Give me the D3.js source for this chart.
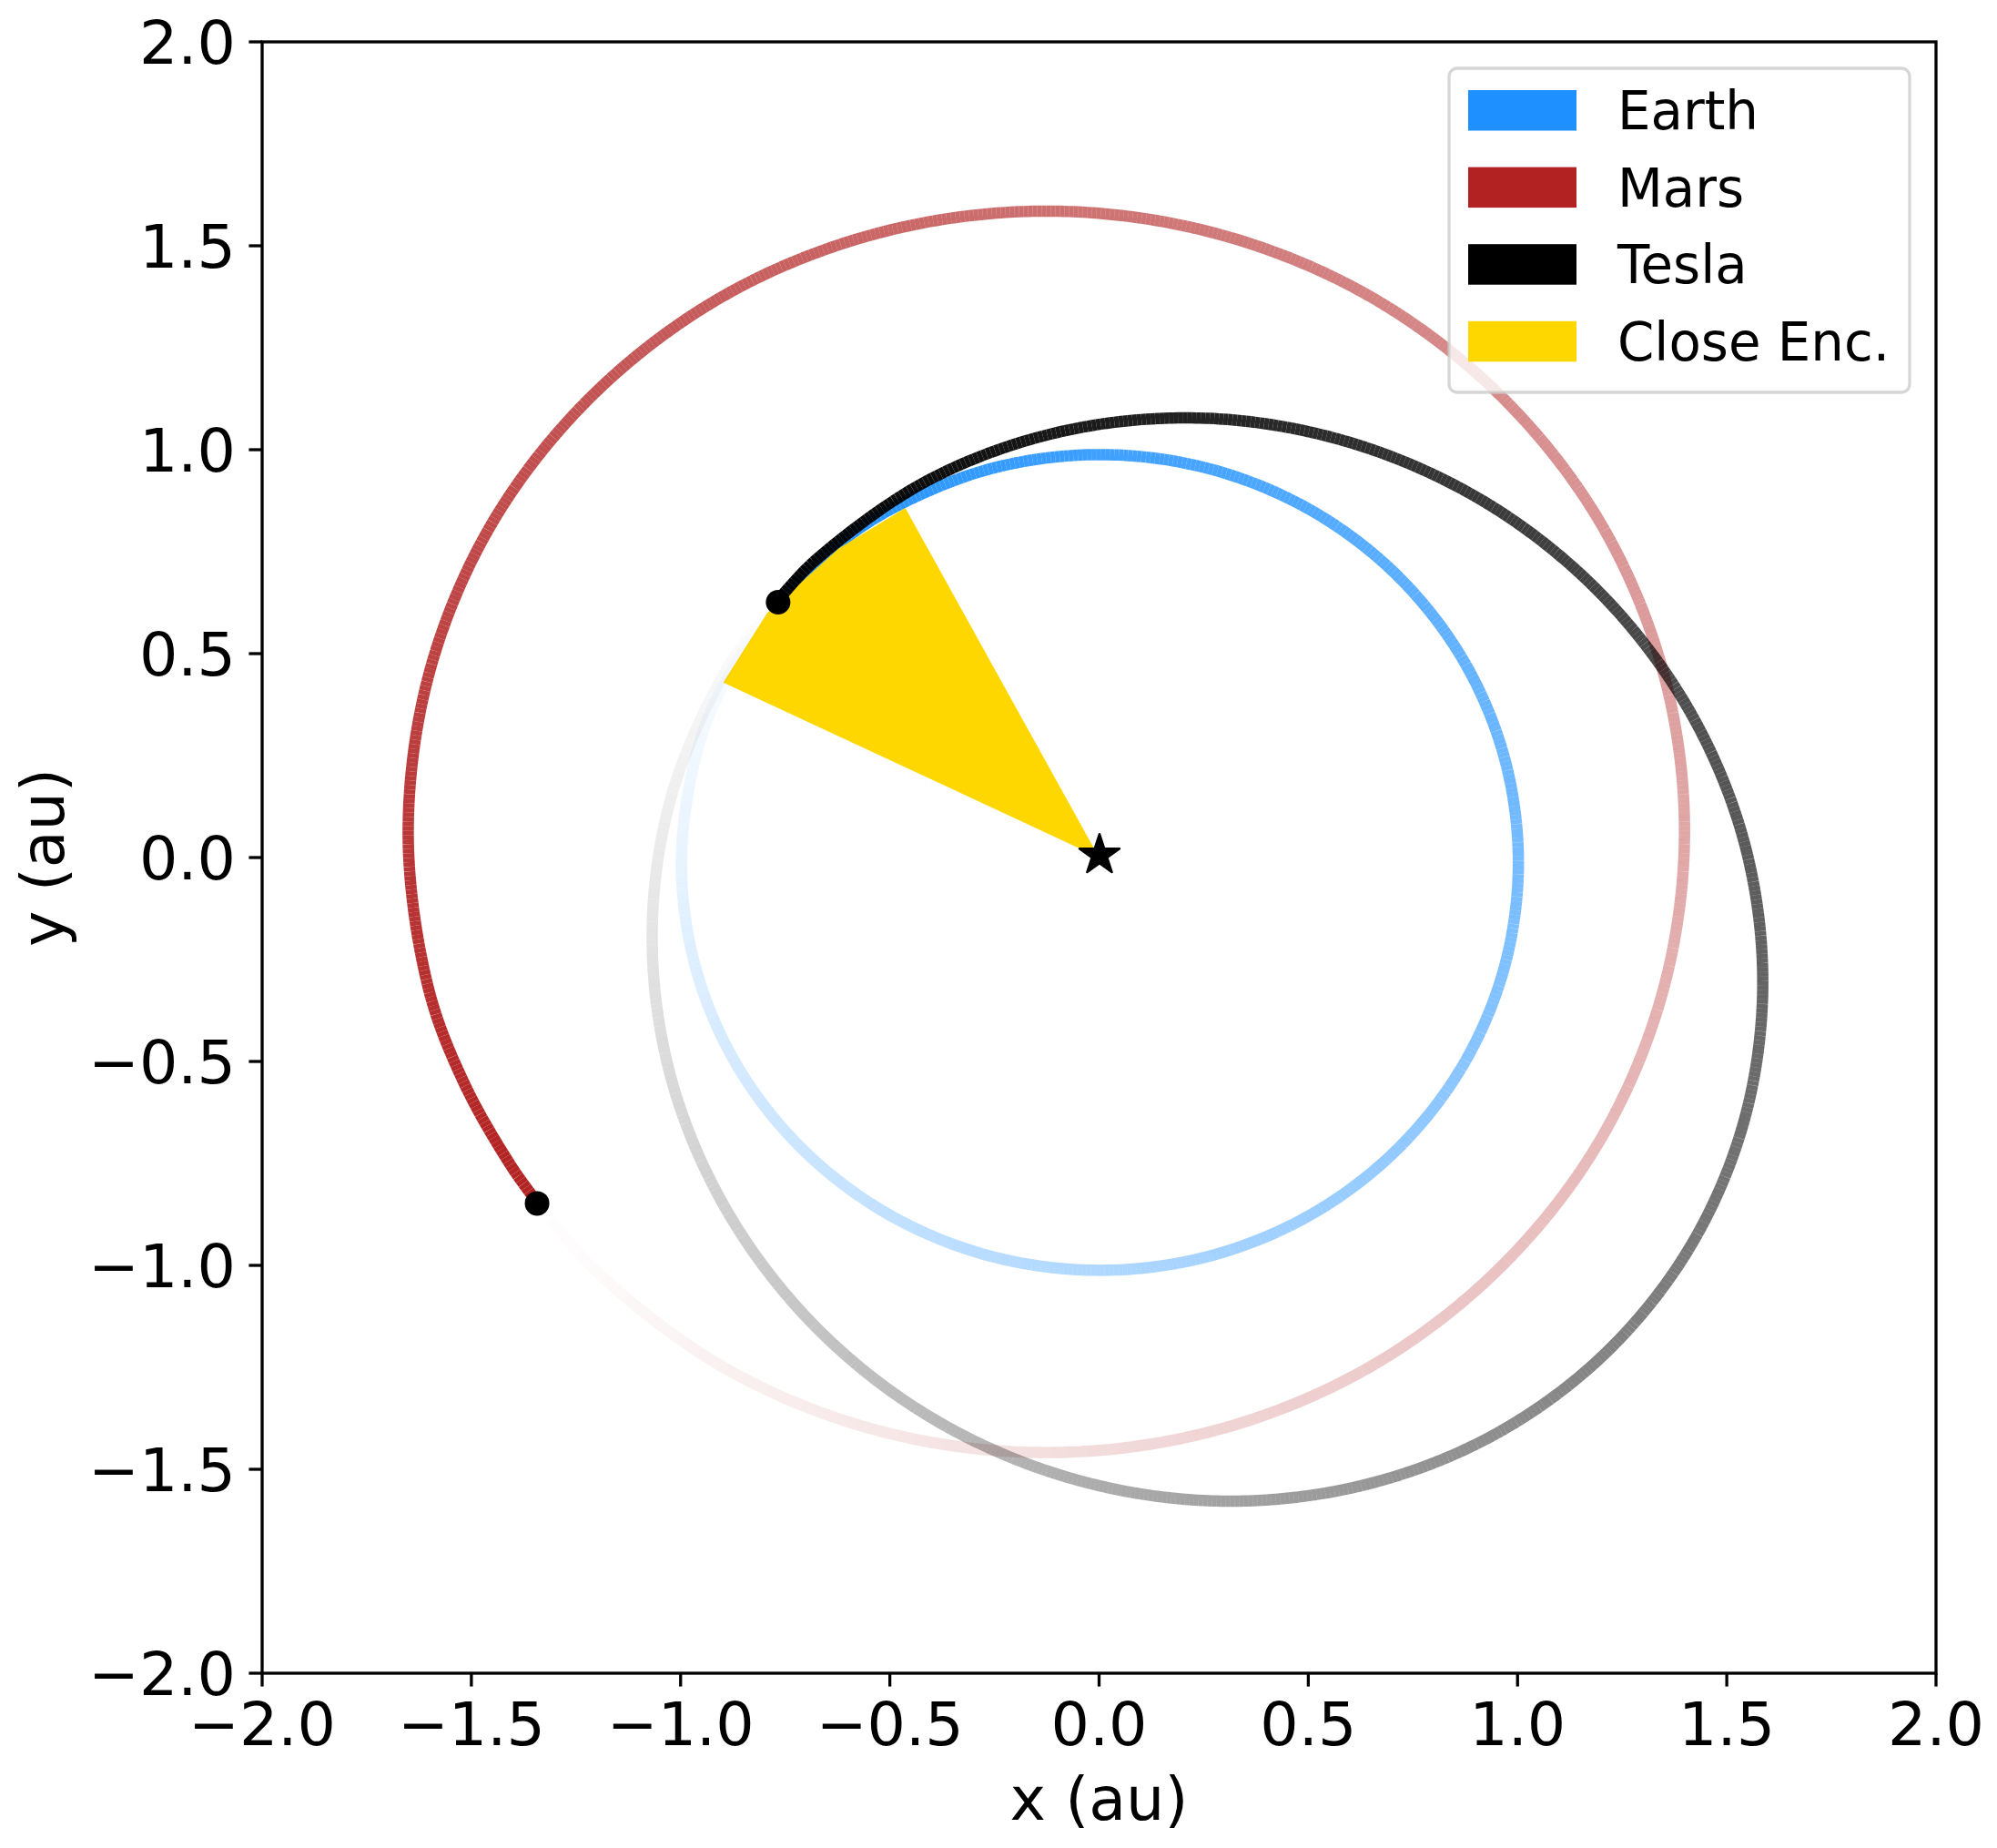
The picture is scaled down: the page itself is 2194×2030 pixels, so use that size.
<!DOCTYPE html>
<html>
<head>
  <meta charset="utf-8">
  <script src="https://d3js.org/d3.v7.min.js"></script>
  <style>
    html, body { margin: 0; padding: 0; background: #fff; }
    svg { display: block; }
    text { font-family: 'DejaVu Sans', sans-serif; fill: #000; }
  </style>
</head>
<body>
<script>
// values, in au
var tickValues = [-2, -1.5, -1, -0.5, 0, 0.5, 1, 1.5, 2];
var legendLabels = ["Earth", "Mars", "Tesla", "Close Enc."];
var legendColors = ["#1e90ff", "#b22222", "#000000", "#ffd700"];

var earthOrbit = [[-0.775,0.620],[-0.904,0.411],[-0.964,0.247],[-0.998,-0.012],[-0.964,-0.271],
  [-0.864,-0.512],[-0.705,-0.719],[-0.498,-0.878],[-0.257,-0.978],[0.002,-1.012],[0.261,-0.978],
  [0.502,-0.878],[0.709,-0.719],[0.868,-0.512],[0.968,-0.271],[1.002,-0.012],[0.968,0.247],
  [0.868,0.488],[0.709,0.695],[0.502,0.854],[0.261,0.954],[0.002,0.988],[-0.257,0.954],
  [-0.498,0.854],[-0.641,0.754],[-0.775,0.620]];

var marsOrbit = [[-1.344,-0.843],[-1.204,-1.012],[-0.889,-1.255],[-0.521,-1.407],[-0.126,-1.459],
  [0.269,-1.407],[0.637,-1.255],[0.952,-1.012],[1.195,-0.697],[1.347,-0.329],[1.399,0.066],
  [1.347,0.459],[1.195,0.826],[0.952,1.140],[0.637,1.382],[0.269,1.533],[-0.126,1.585],
  [-0.521,1.533],[-0.889,1.382],[-1.204,1.140],[-1.447,0.826],[-1.599,0.459],[-1.651,0.066],
  [-1.604,-0.315],[-1.517,-0.554],[-1.402,-0.761],[-1.344,-0.843]];

var teslaOrbit = [[-0.770,0.627],[-0.890,0.462],[-1.023,0.147],[-1.068,-0.194],[-1.023,-0.540],
  [-0.890,-0.865],[-0.679,-1.149],[-0.405,-1.371],[-0.084,-1.517],[0.259,-1.577],[0.602,-1.546],
  [0.923,-1.427],[1.197,-1.228],[1.408,-0.962],[1.541,-0.647],[1.586,-0.306],[1.541,0.040],
  [1.408,0.365],[1.197,0.649],[0.923,0.871],[0.602,1.017],[0.259,1.077],[-0.084,1.046],
  [-0.405,0.927],[-0.679,0.728],[-0.770,0.627]];

var closeEncounter = [[0,0],[-0.898,0.429],[-0.793,0.600],[-0.623,0.757],[-0.463,0.857]];
var endPoints = [[-0.767,0.626],[-1.343,-0.848]];
var sun = [0.001,0.006];

var width = 2194, height = 2030;
var left = 288, right = 2127, top_ = 46, bottom = 1838;
var lw = 3.3, tickLen = 14.6;

var svg = d3.select("body").append("svg")
  .attr("width", width)
  .attr("height", height);

var x = d3.scaleLinear().domain([-2, 2]).range([left, right]);
var y = d3.scaleLinear().domain([-2, 2]).range([bottom, top_]);

var line = d3.line()
  .x(function(d) { return x(d[0]); })
  .y(function(d) { return y(d[1]); })
  .curve(d3.curveCatmullRom.alpha(0.5));

// orbit fades in along its length, cut in short pieces like the original
function drawOrbit(points, color) {
  var g = svg.append("g");
  var guide = g.append("path").attr("d", line(points)).attr("fill", "none");
  var node = guide.node();
  var total = node.getTotalLength();
  var step = 5;
  var n = Math.floor(total / step);
  for (var i = 0; i < n; i++) {
    var a = node.getPointAtLength(i * step);
    var b = node.getPointAtLength((i + 1) * step);
    g.append("line")
      .attr("x1", a.x).attr("y1", a.y)
      .attr("x2", b.x).attr("y2", b.y)
      .attr("stroke", color)
      .attr("stroke-width", 12.5)
      .attr("stroke-opacity", (i + 0.5) / n);
  }
  guide.remove();
}

drawOrbit(earthOrbit, legendColors[0]);
drawOrbit(marsOrbit, legendColors[1]);

svg.append("path")
  .attr("d", d3.line().x(function(d) { return x(d[0]); }).y(function(d) { return y(d[1]); })
    .curve(d3.curveLinear)(closeEncounter) + "Z")
  .attr("fill", legendColors[3]);

drawOrbit(teslaOrbit, legendColors[2]);

svg.selectAll("circle.end")
  .data(endPoints)
  .enter().append("circle")
    .attr("class", "end")
    .attr("cx", function(d) { return x(d[0]); })
    .attr("cy", function(d) { return y(d[1]); })
    .attr("r", 13.5)
    .attr("fill", "#000");

svg.append("path")
  .attr("d", d3.symbol().type(d3.symbolStar).size(600)())
  .attr("transform", "translate(" + x(sun[0]) + "," + y(sun[1]) + ")")
  .attr("fill", "#000")
  .attr("stroke", "#000")
  .attr("stroke-width", 2.5)
  .attr("stroke-linejoin", "round");

// axes
var xAxis = d3.axisBottom(x).tickValues(tickValues).tickFormat(d3.format(".1f"))
  .tickSize(tickLen).offset(0);
var yAxis = d3.axisLeft(y).tickValues(tickValues).tickFormat(d3.format(".1f"))
  .tickSize(tickLen).offset(0);

var gx = svg.append("g").attr("transform", "translate(0," + bottom + ")").call(xAxis);
var gy = svg.append("g").attr("transform", "translate(" + left + ",0)").call(yAxis);

gx.select(".domain").remove();
gy.select(".domain").remove();
svg.selectAll(".tick line").attr("stroke", "#000").attr("stroke-width", lw);

gx.selectAll("text")
  .attr("y", 78.5).attr("dy", 0)
  .style("font-size", "66.7px");
gy.selectAll("text")
  .attr("x", -29).attr("dy", 24)
  .style("font-size", "66.7px");

svg.append("text")
  .attr("x", (left + right) / 2)
  .attr("y", 1999)
  .attr("text-anchor", "middle")
  .style("font-size", "66.7px")
  .text("x (au)");

svg.append("text")
  .attr("transform", "translate(70," + (top_ + bottom) / 2 + ") rotate(-90)")
  .attr("text-anchor", "middle")
  .style("font-size", "66.7px")
  .text("y (au)");

// legend
var legend = svg.append("g");
legend.append("rect")
  .attr("x", 1592).attr("y", 75)
  .attr("width", 506).attr("height", 356)
  .attr("rx", 9)
  .attr("fill", "#fff").attr("fill-opacity", 0.8)
  .attr("stroke", "#ccc").attr("stroke-opacity", 0.8)
  .attr("stroke-width", 3.3);

legendLabels.forEach(function(name, i) {
  legend.append("rect")
    .attr("x", 1613).attr("y", 99 + i * 84.6)
    .attr("width", 119).attr("height", 44.5)
    .attr("fill", legendColors[i]);
  legend.append("text")
    .attr("x", 1777).attr("y", 142 + i * 84.6)
    .style("font-size", "57.8px")
    .text(name);
});

// frame
svg.append("rect")
  .attr("x", left).attr("y", top_)
  .attr("width", right - left).attr("height", bottom - top_)
  .attr("fill", "none")
  .attr("stroke", "#000")
  .attr("stroke-width", lw);
</script>
</body>
</html>
